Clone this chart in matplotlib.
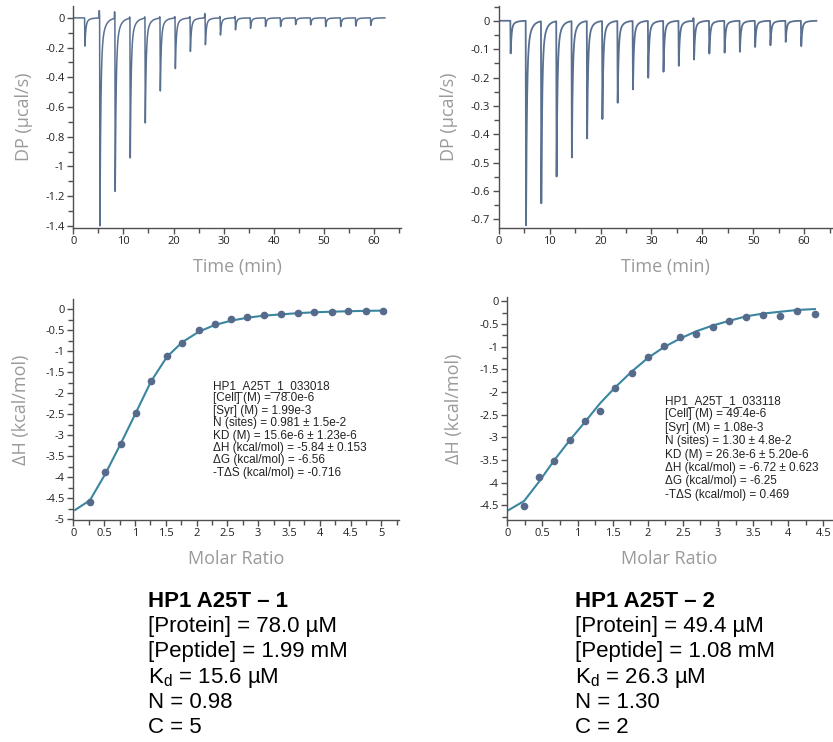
import numpy as np
import matplotlib
matplotlib.use("Agg")
import matplotlib.pyplot as plt
from matplotlib.ticker import MultipleLocator

# ---------------- Data ----------------
# Experiment 1 raw thermogram
inj_time_1 = [2.25, 5.25, 8.3, 11.3, 14.3, 17.3, 20.3, 23.3, 26.3, 29.3,
              32.3, 35.3, 38.3, 41.3, 44.3, 47.3, 50.3, 53.3, 56.3, 59.3]
peak_dp_1 = [-0.19, -1.40, -1.165, -0.94, -0.705, -0.49, -0.34, -0.225, -0.18, -0.115,
             -0.08, -0.07, -0.058, -0.058, -0.045, -0.047, -0.058, -0.058, -0.055, -0.05]
spike_dp_1 = [0.0, 0.05, 0.045, 0.01, 0.01, 0.01, 0.01, 0.01, 0.03, 0.01,
              0.01, 0.0, 0.0, 0.0, 0.0, 0.0, 0.0, 0.0, 0.0, 0.0]
trace_span_1 = [0.1, 62.2]

# Experiment 2 raw thermogram
inj_time_2 = [2.28, 5.3, 8.3, 11.3, 14.3, 17.3, 20.3, 23.3, 26.3, 29.3,
              32.3, 35.3, 38.3, 41.3, 44.3, 47.3, 50.3, 53.3, 56.3, 59.35]
peak_dp_2 = [-0.115, -0.72, -0.641, -0.547, -0.48, -0.413, -0.345, -0.288, -0.241, -0.2,
             -0.179, -0.158, -0.136, -0.115, -0.112, -0.109, -0.092, -0.086, -0.074, -0.089]
spike_dp_2 = [0.0, 0.0, 0.0, 0.0, 0.0, 0.0, 0.0, 0.0, 0.0, 0.0,
              0.0, 0.0, 0.01, 0.0, 0.0, 0.0, 0.0, 0.0, 0.0, 0.0]
trace_span_2 = [0.2, 62.4]

# Experiment 1 integrated heats
ratio_1 = [0.27, 0.52, 0.77, 1.02, 1.26, 1.52, 1.77, 2.04, 2.30, 2.56,
           2.82, 3.09, 3.37, 3.64, 3.91, 4.19, 4.46, 4.75, 5.03]
dh_1 = [-4.60, -3.87, -3.21, -2.47, -1.70, -1.11, -0.79, -0.48, -0.35, -0.24,
        -0.18, -0.13, -0.11, -0.08, -0.07, -0.06, -0.04, -0.04, -0.03]
fit_ratio_1 = [0.03] + ratio_1
fit_dh_1 = [-4.78, -4.55, -3.92, -3.20, -2.45, -1.72, -1.13, -0.78, -0.53, -0.37, -0.27,
            -0.20, -0.15, -0.12, -0.09, -0.07, -0.055, -0.045, -0.035, -0.03]

# Experiment 2 integrated heats
ratio_2 = [0.24, 0.45, 0.67, 0.89, 1.10, 1.32, 1.54, 1.77, 2.00, 2.23,
           2.46, 2.69, 2.93, 3.16, 3.40, 3.64, 3.88, 4.13, 4.38]
dh_2 = [-4.52, -3.87, -3.53, -3.05, -2.64, -2.41, -1.90, -1.58, -1.23, -0.98,
        -0.79, -0.71, -0.56, -0.43, -0.35, -0.29, -0.32, -0.21, -0.27]
fit_ratio_2 = [0.02] + ratio_2
fit_dh_2 = [-4.60, -4.40, -3.98, -3.50, -3.06, -2.67, -2.25, -1.89, -1.55, -1.25, -1.01,
            -0.82, -0.66, -0.53, -0.43, -0.33, -0.27, -0.23, -0.19, -0.17]

fit_text_1 = ["HP1_A25T_1_033018", "[Cell] (M) = 78.0e-6", "[Syr] (M) = 1.99e-3",
              "N (sites) = 0.981 ± 1.5e-2", "KD (M) = 15.6e-6 ± 1.23e-6",
              "ΔH (kcal/mol) = -5.84 ± 0.153", "ΔG (kcal/mol) = -6.56",
              "-TΔS (kcal/mol) = -0.716"]
fit_text_2 = ["HP1_A25T_1_033118", "[Cell] (M) = 49.4e-6", "[Syr] (M) = 1.08e-3",
              "N (sites) = 1.30 ± 4.8e-2", "KD (M) = 26.3e-6 ± 5.20e-6",
              "ΔH (kcal/mol) = -6.72 ± 0.623", "ΔG (kcal/mol) = -6.25",
              "-TΔS (kcal/mol) = 0.469"]

summary_1 = ["HP1 A25T – 1", "[Protein] = 78.0 µM", "[Peptide] = 1.99 mM",
             r"K$_{\mathregular{d}}$ = 15.6 µM", "N = 0.98", "C = 5"]
summary_2 = ["HP1 A25T – 2", "[Protein] = 49.4 µM", "[Peptide] = 1.08 mM",
             r"K$_{\mathregular{d}}$ = 26.3 µM", "N = 1.30", "C = 2"]

# ---------------- Style ----------------
W, H = 833, 742
TRACE = "#5a7091"
FIT = "#3a86a0"
PTS = "#566b8c"
SPINE = "#505050"
LABEL = "#9a9a9a"
UI_FONT = ["Open Sans", "DejaVu Sans"]
ARIAL = ["Liberation Sans", "DejaVu Sans"]

plt.rcParams["font.family"] = UI_FONT
plt.rcParams["mathtext.fontset"] = "custom"
plt.rcParams["mathtext.rm"] = "Liberation Sans"

fig = plt.figure(figsize=(W / 100, H / 100), dpi=100)


def add_axes(px_left, px_right, px_top, px_bottom):
    return fig.add_axes([px_left / W, 1 - px_bottom / H,
                         (px_right - px_left) / W, (px_bottom - px_top) / H])


def style(ax, xmaj, xmin, ymaj, ymin):
    for s in ["top", "right"]:
        ax.spines[s].set_visible(False)
    for s in ["left", "bottom"]:
        ax.spines[s].set_color(SPINE)
        ax.spines[s].set_linewidth(1.0)
    ax.xaxis.set_major_locator(MultipleLocator(xmaj))
    ax.xaxis.set_minor_locator(MultipleLocator(xmin))
    ax.yaxis.set_major_locator(MultipleLocator(ymaj))
    ax.yaxis.set_minor_locator(MultipleLocator(ymin))
    ax.tick_params(which="major", direction="out", length=4, width=1.0,
                   color=SPINE, labelsize=8, labelcolor="#222222", pad=2)
    ax.tick_params(which="minor", direction="out", length=3.5, width=1.0, color=SPINE)
    ax.xaxis.set_major_formatter(plt.FuncFormatter(lambda v, p: f"{v:g}"))
    ax.yaxis.set_major_formatter(plt.FuncFormatter(lambda v, p: f"{v:g}"))


def thermogram(times, depths, spikes, span):
    t = np.arange(span[0], span[1], 0.005)
    dp = np.zeros_like(t)
    for t0, a, s in zip(times, depths, spikes):
        dt = t - t0
        rise = 0.07
        shape = np.where(dt < 0, 0.0,
                         np.where(dt < rise, dt / rise,
                                  0.8 * np.exp(-(dt - rise) / 0.17)
                                  + 0.2 * np.exp(-(dt - rise) / 0.7)))
        dp += a * shape
        dp += s * np.exp(-((dt + 0.06) / 0.04) ** 2)
    return t, dp


# ---------------- Top-left ----------------
ax1 = add_axes(73.3, 401, 6, 228)
t, dp = thermogram(inj_time_1, peak_dp_1, spike_dp_1, trace_span_1)
ax1.plot(t, dp, color=TRACE, lw=1.1)
ax1.set_xlim(0, 65.4)
ax1.set_ylim(-1.415, 0.08)
style(ax1, 10, 5, 0.2, 0.1)
ax1.set_xlabel("Time (min)", fontsize=13, color=LABEL, labelpad=8)
ax1.set_ylabel("DP (µcal/s)", fontsize=13, color=LABEL, labelpad=9)

# ---------------- Top-right ----------------
ax2 = add_axes(498.7, 831.7, 6, 228)
t, dp = thermogram(inj_time_2, peak_dp_2, spike_dp_2, trace_span_2)
ax2.plot(t, dp, color=TRACE, lw=1.3)
ax2.set_xlim(0, 65.4)
ax2.set_ylim(-0.73, 0.052)
style(ax2, 10, 5, 0.1, 0.05)
ax2.set_xlabel("Time (min)", fontsize=13, color=LABEL, labelpad=8)
ax2.set_ylabel("DP (µcal/s)", fontsize=13, color=LABEL, labelpad=9)

# ---------------- Bottom-left ----------------
ax3 = add_axes(73.3, 399.3, 299.3, 520)
ax3.plot(fit_ratio_1, fit_dh_1, color=FIT, lw=1.5, zorder=2)
ax3.plot(ratio_1, dh_1, "o", color=PTS, ms=4.5, zorder=3)
ax3.set_xlim(0, 5.29)
ax3.set_ylim(-5.02, 0.24)
style(ax3, 0.5, 0.25, 0.5, 0.25)
ax3.set_xlabel("Molar Ratio", fontsize=13, color=LABEL, labelpad=8)
ax3.set_ylabel("ΔH (kcal/mol)", fontsize=13, color=LABEL, labelpad=11)

# ---------------- Bottom-right ----------------
ax4 = add_axes(507.3, 831.7, 297, 520)
ax4.plot(fit_ratio_2, fit_dh_2, color=FIT, lw=1.5, zorder=2)
ax4.plot(ratio_2, dh_2, "o", color=PTS, ms=4.5, zorder=3)
ax4.set_xlim(0, 4.62)
ax4.set_ylim(-4.82, 0.096)
style(ax4, 0.5, 0.25, 0.5, 0.25)
ax4.set_xlabel("Molar Ratio", fontsize=13, color=LABEL, labelpad=8)
ax4.set_ylabel("ΔH (kcal/mol)", fontsize=13, color=LABEL, labelpad=12)

# ---------------- Fit parameter annotations ----------------
for lines, x0, y0, dy in [(fit_text_1, 213, 389, 12.4), (fit_text_2, 665, 404, 13.4)]:
    for i, s in enumerate(lines):
        fig.text(x0 / W, 1 - (y0 + i * dy) / H, s, family=ARIAL, fontsize=8.5,
                 color="#222222", va="baseline", ha="left")

# ---------------- Summary blocks ----------------
for lines, x0 in [(summary_1, 148), (summary_2, 575)]:
    for i, s in enumerate(lines):
        fig.text(x0 / W, 1 - (607 + i * 25.2) / H, s, family=ARIAL, fontsize=16,
                 color="black", va="baseline", ha="left",
                 fontweight="bold" if i == 0 else "normal")

fig.savefig("out.png", dpi=100)
